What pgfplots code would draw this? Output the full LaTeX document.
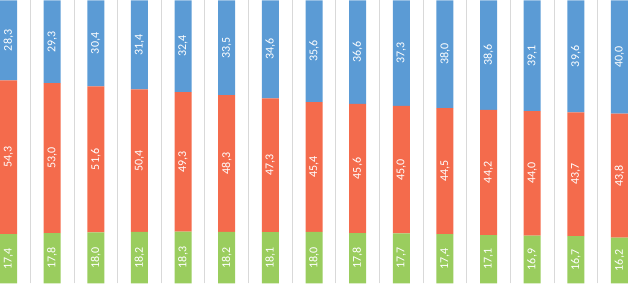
\documentclass[border=0pt]{standalone}
\usepackage{fontspec}
\setmainfont{Carlito}
\usepackage{pgfplots}
\usepackage{pgfplotstable}
\pgfplotsset{compat=1.18}
\definecolor{cblue}{HTML}{5B9BD5}
\definecolor{cred}{HTML}{F46B4C}
\definecolor{cgreen}{HTML}{9ACD5E}
\definecolor{cgrid}{HTML}{D9D9D9}
% x, plotted share (g r b), printed value (gl rl bl)
\pgfplotstableread{
x g r b gl rl bl
0 17.4 54.3 28.3 17.4 54.3 28.3
1 17.8 53.0 29.2 17.8 53.0 29.3
2 18.0 51.6 30.4 18.0 51.6 30.4
3 18.2 50.4 31.4 18.2 50.4 31.4
4 18.3 49.3 32.4 18.3 49.3 32.4
5 18.2 48.3 33.5 18.2 48.3 33.5
6 18.1 47.3 34.6 18.1 47.3 34.6
7 18.18 45.86 35.96 18.0 45.4 35.6
8 17.8 45.6 36.6 17.8 45.6 36.6
9 17.7 45.0 37.3 17.7 45.0 37.3
10 17.4 44.5 38.1 17.4 44.5 38.0
11 17.1 44.2 38.7 17.1 44.2 38.6
12 16.9 44.0 39.1 16.9 44.0 39.1
13 16.7 43.7 39.6 16.7 43.7 39.6
14 16.2 43.8 40.0 16.2 43.8 40.0
}\data
\begin{document}
\begin{tikzpicture}
\begin{axis}[
  scale only axis,
  width=629pt, height=283pt,
  ybar stacked,
  bar width=17pt,
  xmin=-0.195, xmax=14.218,
  ymin=0, ymax=100,
  xtick={0.5,1.5,...,13.5},
  xticklabels={},
  ytick=\empty,
  xmajorgrids,
  grid style={cgrid, line width=0.8pt},
  major tick length=0pt,
  axis line style={draw=none},
  clip=true,
  point meta=explicit,
  nodes near coords={\pgfmathprintnumber{\pgfplotspointmeta}},
  /pgf/number format/.cd, fixed, fixed zerofill, precision=1, use comma, assume math mode=true,
  /pgfplots/.cd,
  every node near coord/.append style={rotate=90, anchor=center, text=white, font=\fontsize{12}{12}\selectfont},
]
\addplot[fill=cgreen, draw=none] table[x=x, y=g, meta=gl] {\data};
\addplot[fill=cred, draw=none] table[x=x, y=r, meta=rl] {\data};
\addplot[fill=cblue, draw=none] table[x=x, y=b, meta=bl] {\data};
\end{axis}
\end{tikzpicture}
\end{document}
